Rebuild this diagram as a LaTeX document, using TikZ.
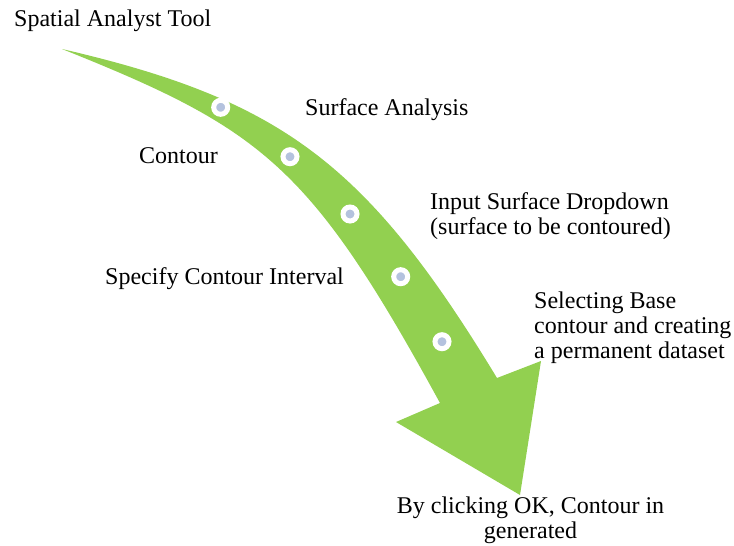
\documentclass[tikz,border=0pt]{standalone}
\usepackage{fontspec}
\setmainfont{Liberation Serif}
\definecolor{arrowgreen}{RGB}{146,208,80}
\definecolor{dotblue}{RGB}{180,194,222}

\begin{document}
\begin{tikzpicture}[x=1pt,y=-1pt,
    steplabel/.style={font=\fontsize{24}{25}\selectfont, inner sep=0pt, align=left, anchor=base west},
    stepdot/.style={circle, fill=dotblue, draw=white, line width=5pt, minimum size=14pt, inner sep=0pt}]
\useasboundingbox (0,0) rectangle (734,546);
% curved arrow
\fill[arrowgreen] (62,49) .. controls (282,100) and (367,163.5) .. (497,378)
  -- (541,361) -- (520,495) -- (396,422) -- (440,403)
  .. controls (310,165) and (262,129) .. (62,49) -- cycle;
\foreach \x/\y [count=\i] in {220.7/107.3, 290/156.7, 350/214, 400.7/276.7, 442/341.7}
  \node[stepdot] (d\i) at (\x,\y) {};
% labels (base = last line)
\node[steplabel] (tool) at (14,27) {Spatial Analyst Tool};
\node[steplabel] (surface) at (305,115) {Surface Analysis};
\node[steplabel] (contour) at (139,163) {Contour};
\node[steplabel] (input) at (430,234) {Input Surface Dropdown\\(surface to be contoured)};
\node[steplabel] (interval) at (105,284) {Specify Contour Interval};
\node[steplabel] (base) at (534,358) {Selecting Base\\contour and creating\\a permanent dataset};
\node[steplabel, align=center, anchor=base] (ok) at (530.5,538) {By clicking OK, Contour in\\generated};
\end{tikzpicture}
\end{document}
